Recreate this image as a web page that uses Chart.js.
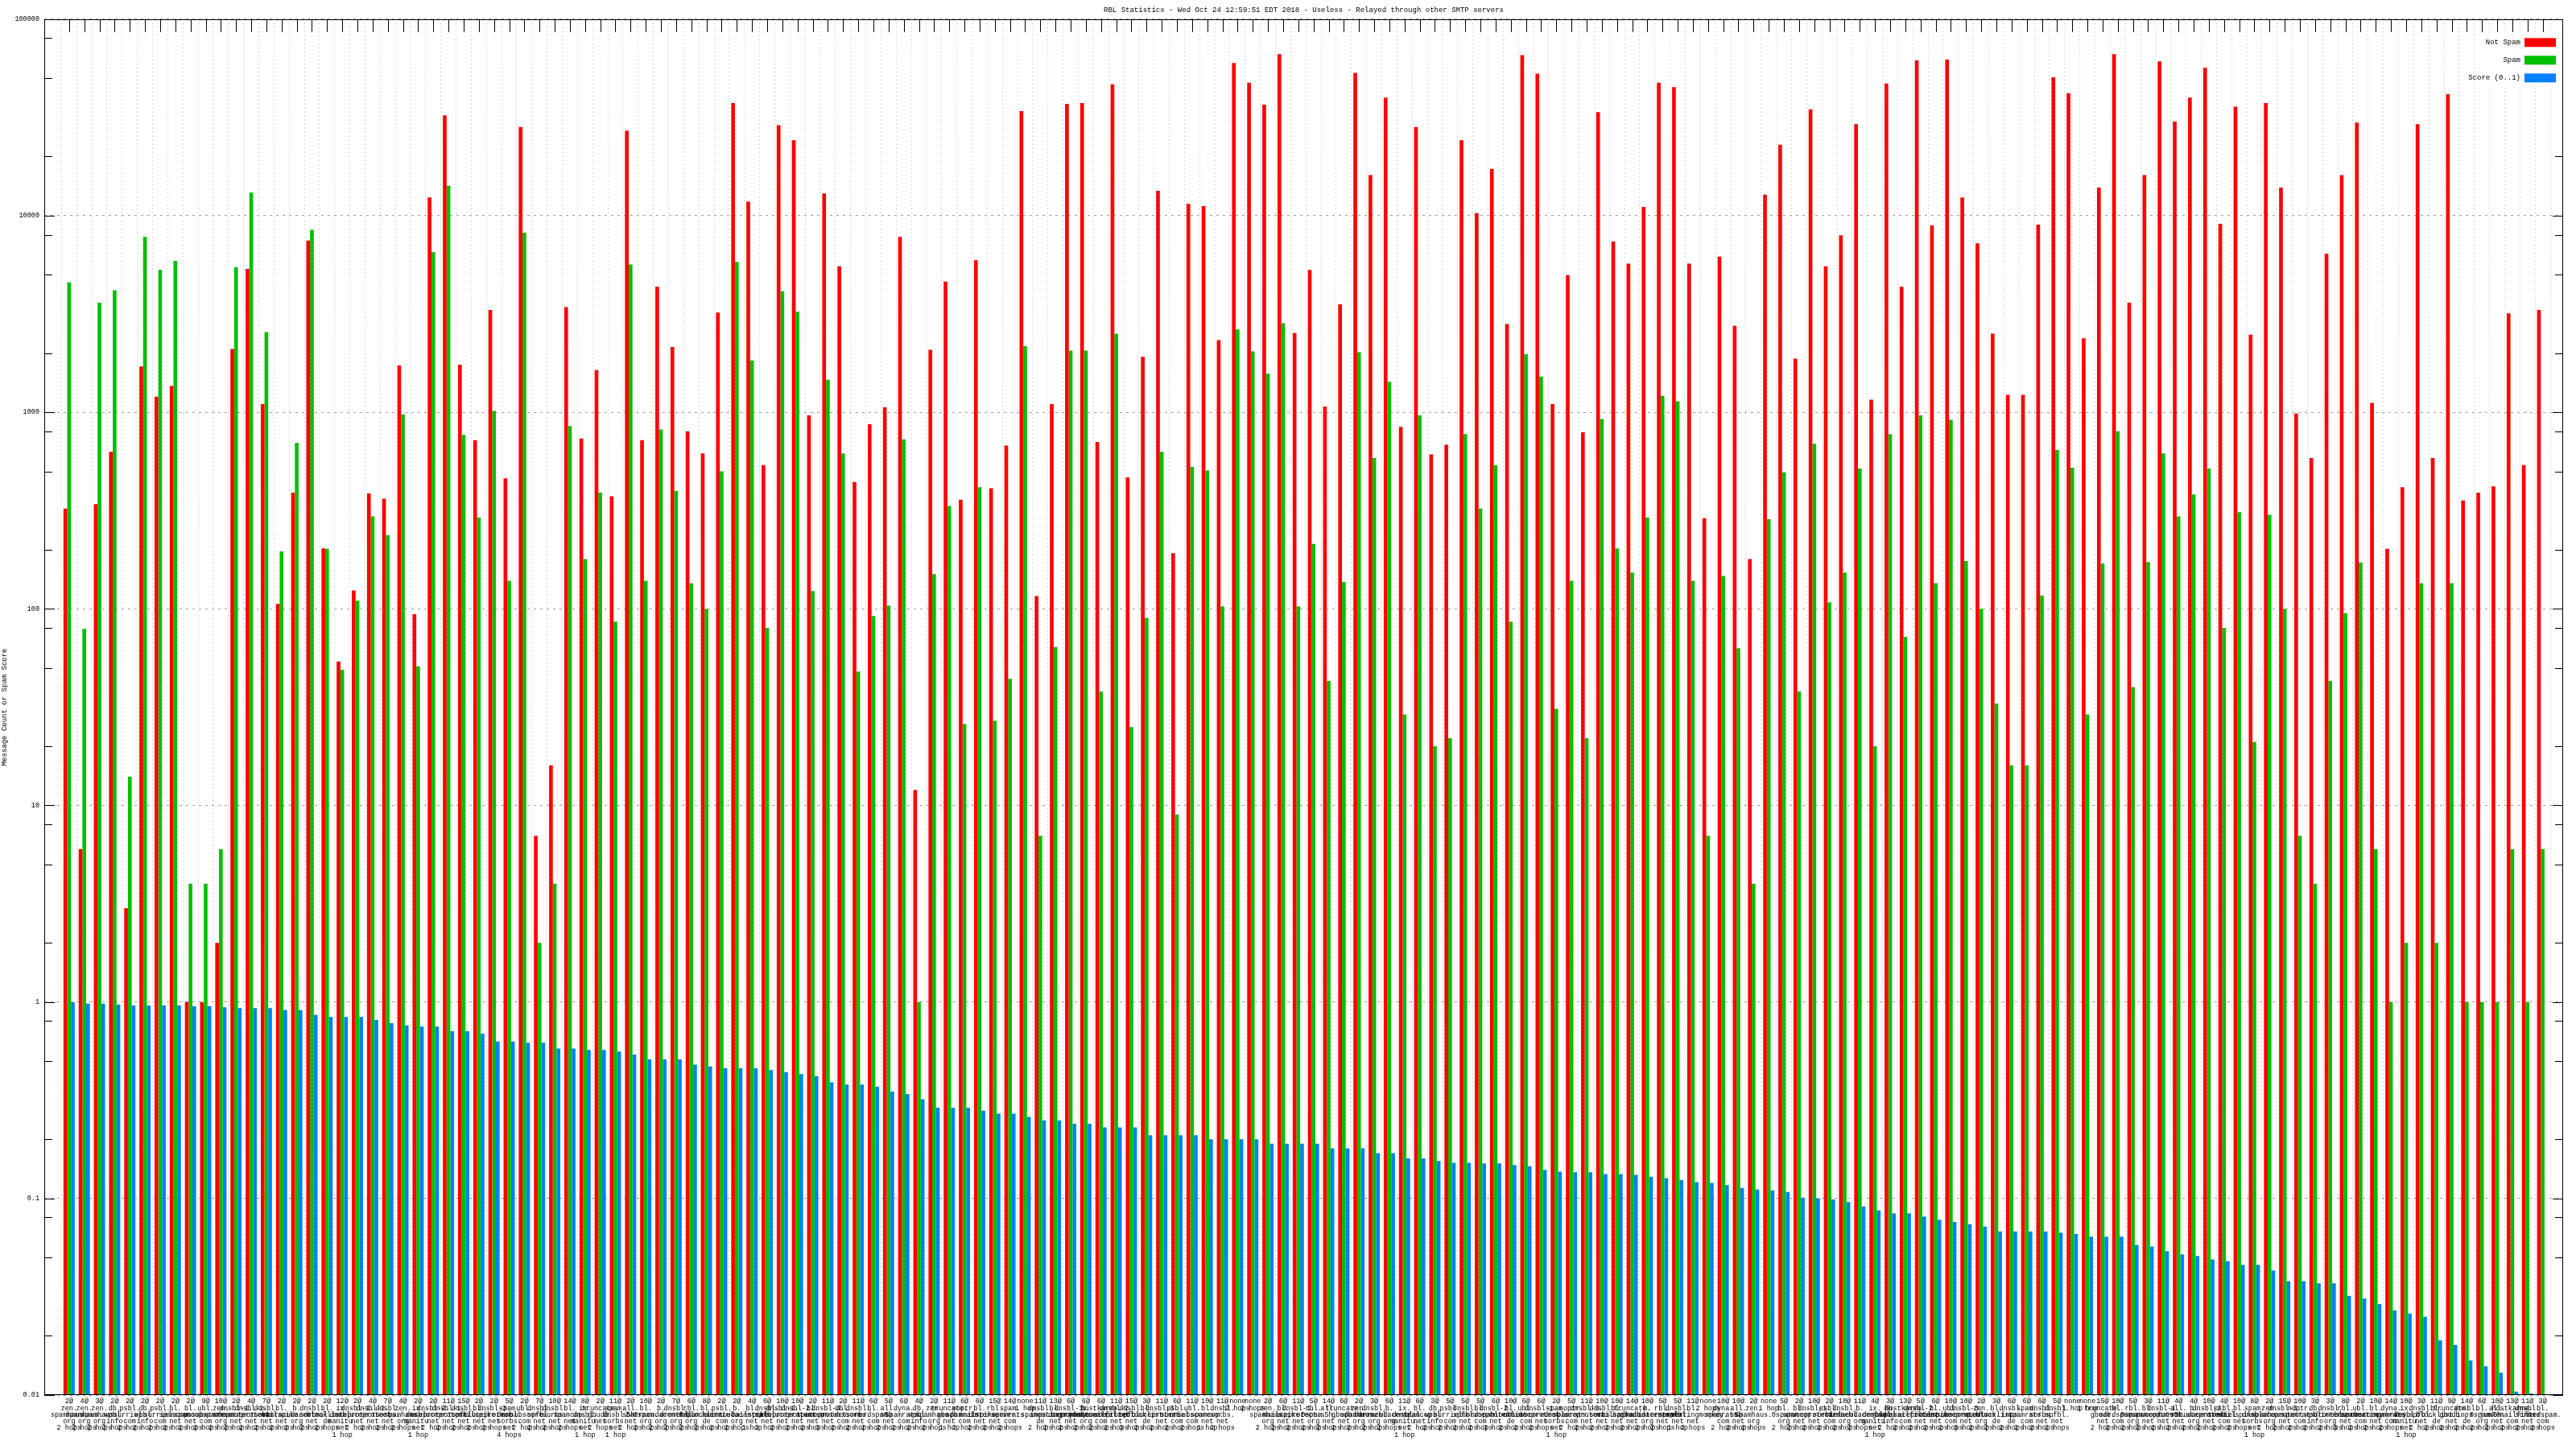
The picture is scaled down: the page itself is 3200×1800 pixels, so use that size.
<!DOCTYPE html>
<html>
<head>
<meta charset="utf-8">
<title>RBL Statistics</title>
<script src="https://cdn.jsdelivr.net/npm/chart.js@4/dist/chart.umd.min.js"></script>
<style>
  html, body { margin: 0; padding: 0; background: #fff; }
</style>
</head>
<body>
<canvas id="rbl-chart" width="3200" height="1800"></canvas>
<script>
// RBL combinations along the x axis: hit count, list name, hops
const hits = [
  '2@','4@','3@','2@','2@','2@','2@','2@','2@','9@','10@','2@','4@','7@','2@','2@','2@','2@','12@','2@','4@','7@','4@','2@',
  '2@','11@','15@','2@','2@','5@','2@','7@','10@','14@','8@','2@','11@','2@','10@','2@','7@','6@','8@','2@','2@','4@','6@',
  '10@','10@','2@','11@','2@','11@','6@','5@','6@','4@','2@','11@','6@','6@','15@','14@','none','11@','13@','6@','6@','6@','11@','15@',
  '3@','11@','6@','11@','10@','11@','none','none','2@','6@','11@','5@','14@','6@','2@','3@','6@','11@','6@','3@','5@','5@','5@','6@',
  '10@','6@','6@','2@','5@','11@','10@','10@','14@','10@','5@','5@','11@','none','10@','10@','2@','none','5@','2@','10@','2@','10@','11@',
  '4@','3@','13@','5@','6@','10@','10@','2@','3@','6@','6@','6@','5@','none','none','15@','10@','5@','3@','11@','4@','4@','10@',
  '4@','10@','8@','2@','15@','10@','3@','3@','8@','2@','10@','14@','10@','3@','11@','9@','14@','6@','10@','13@','11@','3@'
];

const rbls = [
  'zen.spamhaus.org','zen.spamhaus.org','zen.spamhaus.org','db.wpbl.info','psbl.surriel.com','db.wpbl.info','psbl.surriel.com','bl.spamcop.net','bl.spamcop.net','ubl.unsubscore.com',
  'zen.spamhaus.org','dnsbl-1.uceprotect.net','dnsbl-2.uceprotect.net','dnsbl.sorbs.net','bl.mailspike.net','b.barracudacentral.org','dnsbl.sorbs.net','bl.blocklist.de','ix.dnsbl.manitu.net','dnsbl-1.uceprotect.net',
  'dnsbl-2.uceprotect.net','dnsbl.sorbs.net','zen.spamhaus.org','ix.dnsbl.manitu.net','dnsbl-2.uceprotect.net','dnsbl-1.uceprotect.net','dnsbl.spfbl.net','bl.mailspike.net','dnsbl-3.uceprotect.net','spam.dnsbl.sorbs.net',
  'ubl.unsubscore.com','dnsbl.spfbl.net','dnsbl.sorbs.net','bl.spamcop.net','ix.dnsbl.manitu.net','truncate.gbudb.net','spam.dnsbl.sorbs.net','all.s5h.net','bl.0spam.org','b.barracudacentral.org',
  'dnsbl.dronebl.org','rbl.0spam.org','bl.blocklist.de','psbl.surriel.com','b.barracudacentral.org','bl.mailspike.net','dnsbl.spfbl.net','dnsbl-1.uceprotect.net','dnsbl-2.uceprotect.net','bl.spamcop.net',
  'dnsbl-3.uceprotect.net','ubl.unsubscore.com','dnsbl.sorbs.net','bl.nordspam.com','all.s5h.net','dyna.spamrats.com','db.wpbl.info','zen.spamhaus.org','truncate.gbudb.net','noptr.spamrats.com',
  'bl.mailspike.net','rbl.interserver.net','spam.spamrats.com','','dnsbl.inps.de','bl.spameatingmonkey.net','dnsbl-1.uceprotect.net','b.barracudacentral.org','hostkarma.junkemailfilter.com','dnsbl-2.uceprotect.net',
  'dnsbl.spfbl.net','bl.blocklist.de','dnsbl-3.uceprotect.net','psbl.surriel.com','ubl.unsubscore.com','bl.spamcop.net','dnsbl.sorbs.net','','','zen.spamhaus.org',
  'bl.mailspike.net','dnsbl-1.uceprotect.net','rbl.0spam.org','all.s5h.net','truncate.gbudb.net','zen.spamhaus.org','dnsbl.dronebl.org','b.barracudacentral.org','ix.dnsbl.manitu.net','bl.spamcop.net',
  'db.wpbl.info','psbl.surriel.com','dnsbl.spfbl.net','bl.nordspam.com','dnsbl-2.uceprotect.net','bl.blocklist.de','ubl.unsubscore.com','dnsbl-1.uceprotect.net','spam.dnsbl.sorbs.net','noptr.spamrats.com',
  'dnsbl-3.uceprotect.net','dnsbl.sorbs.net','bl.mailspike.net','truncate.gbudb.net','b.barracudacentral.org','rbl.interserver.net','dnsbl.spfbl.net','bl.spameatingmonkey.net','','dyna.spamrats.com',
  'all.s5h.net','zen.spamhaus.org','','bl.0spam.org','bl.spamcop.net','dnsbl-1.uceprotect.net','psbl.surriel.com','dnsbl.dronebl.org','b.barracudacentral.org','ix.dnsbl.manitu.net',
  'db.wpbl.info','hostkarma.junkemailfilter.com','dnsbl-2.uceprotect.net','bl.mailspike.net','ubl.unsubscore.com','dnsbl-3.uceprotect.net','zen.spamhaus.org','bl.blocklist.de','dnsbl.inps.de','spam.spamrats.com',
  'dnsbl.sorbs.net','dnsbl.spfbl.net','','','truncate.gbudb.net','bl.nordspam.com','rbl.0spam.org','bl.spamcop.net','dnsbl-1.uceprotect.net','all.s5h.net',
  'b.barracudacentral.org','dnsbl-2.uceprotect.net','psbl.surriel.com','bl.mailspike.net','spam.dnsbl.sorbs.net','zen.spamhaus.org','dnsbl-3.uceprotect.net','noptr.spamrats.com','db.wpbl.info','dnsbl.dronebl.org',
  'rbl.interserver.net','ubl.unsubscore.com','bl.spameatingmonkey.net','dyna.spamrats.com','ix.dnsbl.manitu.net','dnsbl.spfbl.net','bl.blocklist.de','truncate.gbudb.net','dnsbl.inps.de','bl.0spam.org',
  'all.s5h.net','hostkarma.junkemailfilter.com','dnsbl.sorbs.net','bl.nordspam.com'
];

const hops = [
  2,2,2,2,2,2,2,2,2,2, 2,2,2,2,2,2,2,2,1,2, 2,2,2,1,2,2,2,2,2,4, 2,2,2,2,1,2,1,2,2,2,
  2,2,2,2,2,1,2,2,2,2, 3,2,2,2,2,2,2,2,1,2, 2,2,2,1,2,2,2,2,2,2, 3,2,2,2,2,1,2,2,2,2,
  2,2,2,2,2,2,2,2,1,2, 2,2,2,2,3,2,2,2,1,2, 2,2,2,2,2,2,1,2,2,2, 2,2,1,2,2,2,2,2,2,1,
  2,2,2,2,2,3,2,2,2,2, 2,2,1,1,2,2,2,2,2,2, 2,2,2,2,1,2,2,2,2,2, 3,2,2,2,1,2,2,2,2,2,
  2,2,2,2
];

// message counts (log scale)
const notSpam = [
  324,6,341,630,3,1710,1200,1360,1,1,2,2100,5360,1100,106,390,7480,203,54,124,386,363,1730,94,
  12400,32400,1745,721,3320,461,28300,7,16,3430,736,1640,374,27100,721,4350,2150,800,617,3220,37400,11800,539,
  28900,24200,964,13000,5530,442,869,1059,7800,12,2080,4630,359,5940,411,677,34100,116,1100,37100,37400,706,46600,466,
  1915,13400,192,11500,11200,2330,59800,47500,36700,66400,2530,5300,1070,3540,53300,16100,39900,843,28300,611,684,24200,10300,17300,
  2810,65600,52800,1100,4990,791,33700,7400,5700,11100,47500,45100,5700,289,6200,2750,179,12800,23000,1875,34800,5530,7960,29200,
  1160,47100,4350,61700,8920,62300,12400,7240,2510,1225,1225,9020,50600,42000,2380,13900,66400,3610,16100,61000,30100,39900,56700,
  9100,35900,2480,37400,13900,985,585,6400,16100,29800,1115,202,416,29200,585,41500,356,390,420,3190,539,3320
];

const spam = [
  4580,79,3610,4180,14,7800,5300,5890,4,4,6,5470,13100,2560,196,698,8470,202,49,110,295,237,975,51,
  6530,14200,767,292,1016,139,8200,2,4,851,179,390,86,5650,139,817,398,135,100,501,5820,1837,80,
  4130,3250,123,1462,617,48,92,104,728,1,150,334,26,416,27,44,2170,7,64,2060,2060,38,2510,25,
  90,630,9,527,506,103,2640,2040,1570,2840,103,214,43,137,2020,585,1430,29,964,20,22,775,324,539,
  86,1976,1520,31,139,22,925,203,153,292,1213,1138,139,7,147,63,4,286,495,38,692,108,153,517,
  20,775,72,964,135,916,175,100,33,16,16,117,643,522,29,170,800,40,173,617,295,382,517,
  80,310,21,301,100,7,4,43,95,172,6,1,2,135,2,135,1,1,1,6,1,6
];

// spam score, 0..1
const score = [
  1.00,0.98,0.98,0.97,0.96,0.96,0.96,0.96,0.95,0.95,0.94,0.93,0.93,0.93,0.91,0.91,0.86,0.84,0.84,0.84,0.81,0.78,0.76,0.75,
  0.75,0.71,0.71,0.69,0.63,0.63,0.62,0.62,0.58,0.58,0.57,0.57,0.56,0.54,0.51,0.51,0.51,0.48,0.47,0.46,0.46,0.46,0.45,
  0.44,0.43,0.42,0.39,0.38,0.38,0.37,0.35,0.34,0.32,0.29,0.29,0.29,0.28,0.27,0.27,0.26,0.25,0.25,0.24,0.24,0.23,0.23,0.23,
  0.21,0.21,0.21,0.21,0.20,0.20,0.20,0.20,0.19,0.19,0.19,0.19,0.18,0.18,0.18,0.17,0.17,0.16,0.16,0.155,0.152,0.152,0.151,0.151,
  0.148,0.146,0.140,0.137,0.136,0.136,0.133,0.133,0.132,0.129,0.127,0.124,0.121,0.120,0.117,0.113,0.111,0.110,0.108,0.101,0.100,0.099,0.096,0.091,
  0.087,0.084,0.084,0.081,0.078,0.076,0.074,0.072,0.068,0.068,0.068,0.068,0.067,0.066,0.064,0.064,0.064,0.058,0.057,0.054,0.052,0.051,0.049,
  0.048,0.046,0.046,0.043,0.038,0.038,0.037,0.037,0.032,0.031,0.029,0.027,0.026,0.025,0.019,0.018,0.015,0.014,0.013,0.0104,0.0102,0.0100
];

const yTicks = [0.01, 0.1, 1, 10, 100, 1000, 10000, 100000];
const minorSteps = [2, 5, 8];

const FONT = 'Liberation Mono';

// multi-line tick label: "N@", the list name split at its dots, hop count
const labels = hits.map((h, i) => {
  const lines = [h];
  if (rbls[i]) {
    const parts = rbls[i].split('.');
    parts.forEach((p, j) => lines.push(j < parts.length - 1 ? p + '.' : p));
  }
  lines.push(hops[i] + (hops[i] === 1 ? ' hop' : ' hops'));
  return lines;
});

const toPoints = (arr) => arr.map((v, i) => ({ x: i, y: v }));

// gnuplot-style frame: border, inward tics, top tics and the key
const frame = {
  id: 'frame',
  afterDatasetsDraw(chart) {
    const { ctx, chartArea: a, scales } = chart;
    ctx.save();
    ctx.strokeStyle = '#000';
    ctx.lineWidth = 1;
    ctx.beginPath();
    yTicks.forEach((d, k) => {
      const y = Math.round(scales.y.getPixelForValue(d)) + 0.5;
      ctx.moveTo(a.left, y); ctx.lineTo(a.left + 13, y);
      ctx.moveTo(a.right, y); ctx.lineTo(a.right - 13, y);
      if (k < yTicks.length - 1) {
        minorSteps.forEach((m) => {
          const ym = Math.round(scales.y.getPixelForValue(d * m)) + 0.5;
          ctx.moveTo(a.left, ym); ctx.lineTo(a.left + 10, ym);
          ctx.moveTo(a.right, ym); ctx.lineTo(a.right - 10, ym);
        });
      }
    });
    labels.forEach((_, i) => {
      const x = Math.round(scales.x.getPixelForValue(i)) + 0.5;
      ctx.moveTo(x, a.top); ctx.lineTo(x, a.top + 16);
    });
    ctx.stroke();
    ctx.strokeRect(Math.round(a.left) + 0.5, Math.round(a.top) + 0.5,
      Math.round(a.right - a.left) - 1, Math.round(a.bottom - a.top) - 1);

    // key
    ctx.fillStyle = '#fff';
    ctx.fillRect(a.right - 104, a.top + 17, 103, 67);
    ctx.font = '9px "' + FONT + '"';
    ctx.textAlign = 'right';
    ctx.textBaseline = 'middle';
    chart.data.datasets.forEach((ds, k) => {
      const y = a.top + 29 + k * 22;
      ctx.fillStyle = ds.backgroundColor;
      ctx.fillRect(a.right - 48, y - 5.5, 39, 11);
      ctx.fillStyle = '#000';
      ctx.fillText(ds.label, a.right - 53, y);
    });
    ctx.restore();
  }
};

new Chart(document.getElementById('rbl-chart'), {
  type: 'bar',
  data: {
    datasets: [
      { label: 'Not Spam', data: toPoints(notSpam), backgroundColor: '#ff0000' },
      { label: 'Spam', data: toPoints(spam), backgroundColor: '#00c000' },
      { label: 'Score (0..1)', data: toPoints(score), backgroundColor: '#0080ff' }
    ]
  },
  options: {
    responsive: false,
    animation: false,
    layout: { autoPadding: false, padding: { left: 0, right: 16, top: 0, bottom: 0 } },
    datasets: { bar: { categoryPercentage: 0.74, barPercentage: 1.0, borderWidth: 0 } },
    plugins: {
      legend: { display: false },
      tooltip: { enabled: false },
      title: {
        display: true,
        fullSize: false,
        text: 'RBL Statistics - Wed Oct 24 12:59:51 EDT 2018 - Useless - Relayed through other SMTP servers',
        color: '#000',
        font: { family: FONT, size: 9, weight: 'normal', lineHeight: 1.2 },
        padding: { top: 7, bottom: 6 }
      }
    },
    scales: {
      x: {
        type: 'linear',
        min: -1.13,
        max: 163.84,
        afterBuildTicks: (s) => { s.ticks = labels.map((_, i) => ({ value: i })); },
        afterFit: (s) => { s.height = 67; },
        ticks: {
          autoSkip: false, maxRotation: 0, minRotation: 0, padding: 4, color: '#000',
          font: { family: FONT, size: 8.5, lineHeight: 0.97 },
          callback: (v) => labels[v] || ''
        },
        grid: { color: '#b4b4b4', drawTicks: false, lineWidth: 1 },
        border: { display: false, dash: [1, 4] }
      },
      y: {
        type: 'logarithmic',
        min: 0.01,
        max: 100000,
        afterBuildTicks: (s) => { s.ticks = yTicks.map((v) => ({ value: v })); },
        afterFit: (s) => { s.width = 55; },
        ticks: {
          autoSkip: false, padding: 6, color: '#000',
          font: { family: FONT, size: 8.5 },
          callback: (v) => String(v)
        },
        grid: { color: '#a0a0a0', drawTicks: false, lineWidth: 1 },
        border: { display: false, dash: [3, 5] },
        title: {
          display: true,
          text: 'Message Count or Spam Score',
          color: '#000',
          font: { family: FONT, size: 9, lineHeight: 1.2 },
          padding: { top: 0, bottom: 0 }
        }
      }
    }
  },
  plugins: [frame]
});
</script>
</body>
</html>
